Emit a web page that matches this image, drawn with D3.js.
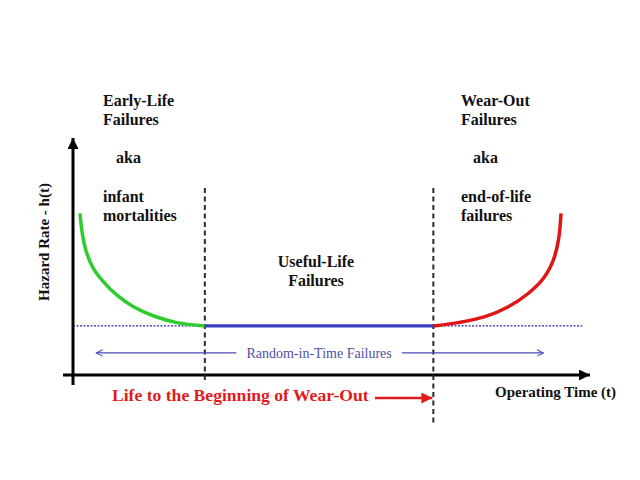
<!DOCTYPE html>
<html>
<head>
<meta charset="utf-8">
<script src="https://cdn.jsdelivr.net/npm/d3@7"></script>
<style>
  html, body { margin: 0; padding: 0; background: #fff; }
  svg { display: block; }
  text { font-family: "Liberation Serif", "Times New Roman", serif; }
</style>
</head>
<body>
<svg id="chart" width="640" height="480"></svg>
<script>
// ---- data (time t in 0..100, hazard h in 0..100) ----
const earlyT = [1.35, 1.9, 2.65, 3.9, 5.9, 8.45, 11.7, 15.5, 20.1, 25.5];
const earlyH = [68.2, 58.4, 51.5, 45.1, 39.3, 33.8, 28.8, 25.0, 22.1, 20.7];
const usefulT = [25.5, 69.7];
const usefulH = [20.7, 20.7];
const wearT = [69.7, 74.5, 79.7, 84.2, 88.1, 91.0, 92.9, 93.9, 94.4];
const wearH = [20.7, 22.1, 24.6, 28.8, 34.5, 40.8, 48.5, 57.0, 68.2];
const baseT = [0, 98.5];
const baseH = [20.7, 20.7];
const boundaryT = [25.5, 69.7];
const randomH = 9.3;
const randomSpan = [4.5, 91.0];
const randomGap = [31.6, 63.6];
const earlyLabel = ["Early-Life", "Failures"];
const earlyAka = ["infant", "mortalities"];
const wearLabel = ["Wear-Out", "Failures"];
const wearAka = ["end-of-life", "failures"];
const usefulLabel = ["Useful-Life", "Failures"];
const yTitle = "Hazard Rate - h(t)";
const xTitle = "Operating Time (t)";
const randomLabel = "Random-in-Time Failures";
const lifeLabel = "Life to the Beginning of Wear-Out";

// ---- scales ----
const x = d3.scaleLinear().domain([0, 100]).range([73, 590]);
const y = d3.scaleLinear().domain([0, 100]).range([375, 138]);

const svg = d3.select("#chart");
const defs = svg.append("defs");
function marker(id, color, open) {
  const m = defs.append("marker").attr("id", id)
    .attr("viewBox", "0 0 10 10").attr("refX", open ? 9 : 10).attr("refY", 5)
    .attr("markerUnits", "userSpaceOnUse")
    .attr("markerWidth", open ? 8 : 12).attr("markerHeight", open ? 8 : 11)
    .attr("orient", "auto-start-reverse");
  if (open) m.append("path").attr("d", "M1,1 L9,5 L1,9").attr("fill", "none").attr("stroke", color).attr("stroke-width", 1.3);
  else m.append("path").attr("d", "M0,0 L10,5 L0,10 Z").attr("fill", color);
}
marker("axArrow", "#000", false);
marker("redArrow", "#e01b1b", false);
marker("blueArrow", "#4a4ab8", true);

const line = d3.line().x(d => x(d[0])).y(d => y(d[1])).curve(d3.curveCatmullRom);
const zip = (a, b) => a.map((v, i) => [v, b[i]]);

// baseline dotted
svg.append("path").attr("d", d3.line().x(d => x(d[0])).y(d => y(d[1]))(zip(baseT, baseH)))
  .attr("fill", "none").attr("stroke", "#2a2aa8").attr("stroke-width", 1.2).attr("stroke-dasharray", "2,1.5");

// axes
svg.append("line").attr("x1", x(0)).attr("x2", x(0)).attr("y1", y(0) + 10).attr("y2", y(100))
  .attr("stroke", "#000").attr("stroke-width", 3).attr("marker-end", "url(#axArrow)");
svg.append("line").attr("x1", x(0) - 10).attr("x2", x(100)).attr("y1", y(0)).attr("y2", y(0))
  .attr("stroke", "#000").attr("stroke-width", 3).attr("marker-end", "url(#axArrow)");

// boundaries
svg.append("line").attr("x1", x(boundaryT[0])).attr("x2", x(boundaryT[0])).attr("y1", 188).attr("y2", y(0) + 6)
  .attr("stroke", "#2a2a2a").attr("stroke-width", 2).attr("stroke-dasharray", "5,3.5");
svg.append("line").attr("x1", x(boundaryT[1])).attr("x2", x(boundaryT[1])).attr("y1", 188).attr("y2", 424)
  .attr("stroke", "#2a2a2a").attr("stroke-width", 2).attr("stroke-dasharray", "5,3.5");

// curves
svg.append("path").attr("d", line(zip(earlyT, earlyH))).attr("fill", "none").attr("stroke", "#2ecc2e").attr("stroke-width", 3.5);
svg.append("path").attr("d", line(zip(usefulT, usefulH))).attr("fill", "none").attr("stroke", "#3a3fbf").attr("stroke-width", 3.2);
svg.append("path").attr("d", line(zip(wearT, wearH))).attr("fill", "none").attr("stroke", "#e01515").attr("stroke-width", 3.5);

// random-in-time arrows
svg.append("line").attr("x1", x(randomGap[0])).attr("x2", x(randomSpan[0])).attr("y1", y(randomH)).attr("y2", y(randomH))
  .attr("stroke", "#4a4ab8").attr("stroke-width", 1.2).attr("marker-end", "url(#blueArrow)");
svg.append("line").attr("x1", x(randomGap[1])).attr("x2", x(randomSpan[1])).attr("y1", y(randomH)).attr("y2", y(randomH))
  .attr("stroke", "#4a4ab8").attr("stroke-width", 1.2).attr("marker-end", "url(#blueArrow)");
svg.append("text").attr("x", (x(randomGap[0]) + x(randomGap[1])) / 2).attr("y", y(randomH) + 5)
  .attr("text-anchor", "middle").attr("font-size", 14).attr("fill", "#5050a8").text(randomLabel);

// labels
function block(lines, xPos, y0, anchor) {
  lines.forEach((t, i) => svg.append("text").attr("x", xPos).attr("y", y0 + i * 19)
    .attr("text-anchor", anchor || "start").attr("font-size", 16).attr("font-weight", "bold").attr("fill", "#111").text(t));
}
block(earlyLabel, 103, 106);
block(["aka"], 116, 163);
block(earlyAka, 103, 202);
block(wearLabel, 461, 106);
block(["aka"], 473, 163);
block(wearAka, 461, 202);
block(usefulLabel, 316, 267, "middle");

svg.append("text").attr("transform", "translate(49,242) rotate(-90)").attr("text-anchor", "middle")
  .attr("font-size", 15).attr("font-weight", "bold").attr("fill", "#111").text(yTitle);
svg.append("text").attr("x", 495).attr("y", 397).attr("font-size", 15).attr("font-weight", "bold").attr("fill", "#111").text(xTitle);

svg.append("text").attr("x", 112).attr("y", 401).attr("font-size", 17.6).attr("font-weight", "bold").attr("fill", "#e01b1b").text(lifeLabel);
svg.append("line").attr("x1", 375).attr("x2", x(boundaryT[1]) - 1).attr("y1", 398).attr("y2", 398)
  .attr("stroke", "#e01b1b").attr("stroke-width", 2.5).attr("marker-end", "url(#redArrow)");
</script>
</body>
</html>
